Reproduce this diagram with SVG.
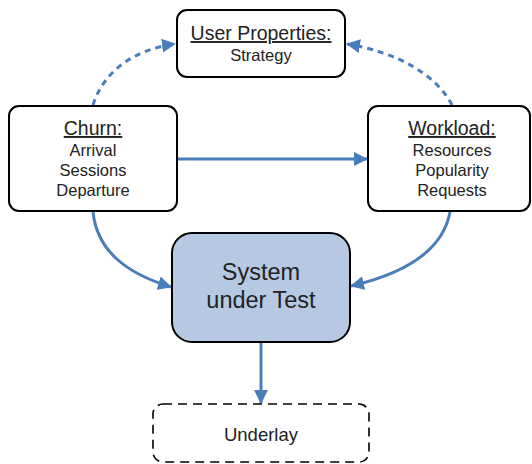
<svg xmlns="http://www.w3.org/2000/svg" width="532" height="464" viewBox="0 0 532 464">
  <style>
    .box { fill: #ffffff; stroke: #000000; stroke-width: 2; }
    .sut { fill: #b7c9e2; stroke: #000000; stroke-width: 2; }
    .dashbox { fill: #ffffff; stroke: #000000; stroke-width: 1.6; stroke-dasharray: 9 6; }
    .title { font-family: "Liberation Sans", Arial, sans-serif; font-size: 19.5px; fill: #222222; text-anchor: middle; text-decoration: underline; }
    .item { font-family: "Liberation Sans", Arial, sans-serif; font-size: 16.5px; fill: #222222; text-anchor: middle; }
    .big { font-family: "Liberation Sans", Arial, sans-serif; font-size: 23.5px; fill: #222222; text-anchor: middle; }
    .link { fill: none; stroke: #4a7ebb; stroke-width: 3; }
    .dashed { stroke-dasharray: 6 5; }
  </style>
  <defs>
    <marker id="head" markerWidth="14" markerHeight="14" refX="13" refY="7" orient="auto" markerUnits="userSpaceOnUse">
      <path d="M0,0 L14,7 L0,14 Z" fill="#4a7ebb"/>
    </marker>
  </defs>

  <!-- connectors -->
  <g id="connectors">
    <path class="link dashed" d="M93,105 C104,70 136,49 175,44" marker-end="url(#head)"/>
    <path class="link dashed" d="M452,105 C436,74 396,52 347,44" marker-end="url(#head)"/>
    <path class="link" d="M178,159 L367,159" marker-end="url(#head)"/>
    <path class="link" d="M93,212 C97,250 125,273 171,287" marker-end="url(#head)"/>
    <path class="link" d="M450,212 C443,250 407,273 351,286" marker-end="url(#head)"/>
    <path class="link" d="M261,343 L261,403" marker-end="url(#head)"/>
  </g>

  <g id="user-properties">
    <rect class="box" x="177" y="10" width="168" height="67" rx="10"/>
    <text class="title" x="261" y="40">User Properties:</text>
    <text class="item" x="261" y="61">Strategy</text>
  </g>

  <g id="churn">
    <rect class="box" x="9" y="106" width="168" height="105" rx="10"/>
    <text class="title" x="93" y="135">Churn:</text>
    <text class="item" x="93" y="156">Arrival</text>
    <text class="item" x="93" y="176">Sessions</text>
    <text class="item" x="93" y="196">Departure</text>
  </g>

  <g id="workload">
    <rect class="box" x="368" y="106" width="162" height="105" rx="10"/>
    <text class="title" x="452" y="135">Workload:</text>
    <text class="item" x="452" y="156">Resources</text>
    <text class="item" x="452" y="176">Popularity</text>
    <text class="item" x="452" y="196">Requests</text>
  </g>

  <g id="system-under-test">
    <rect class="sut" x="172" y="233" width="178" height="109" rx="20"/>
    <text class="big" x="261" y="280">System</text>
    <text class="big" x="261" y="308">under Test</text>
  </g>

  <g id="underlay">
    <rect class="dashbox" x="153" y="404" width="216" height="58" rx="10"/>
    <text class="item" x="261" y="441" style="font-size:18.5px">Underlay</text>
  </g>
</svg>
